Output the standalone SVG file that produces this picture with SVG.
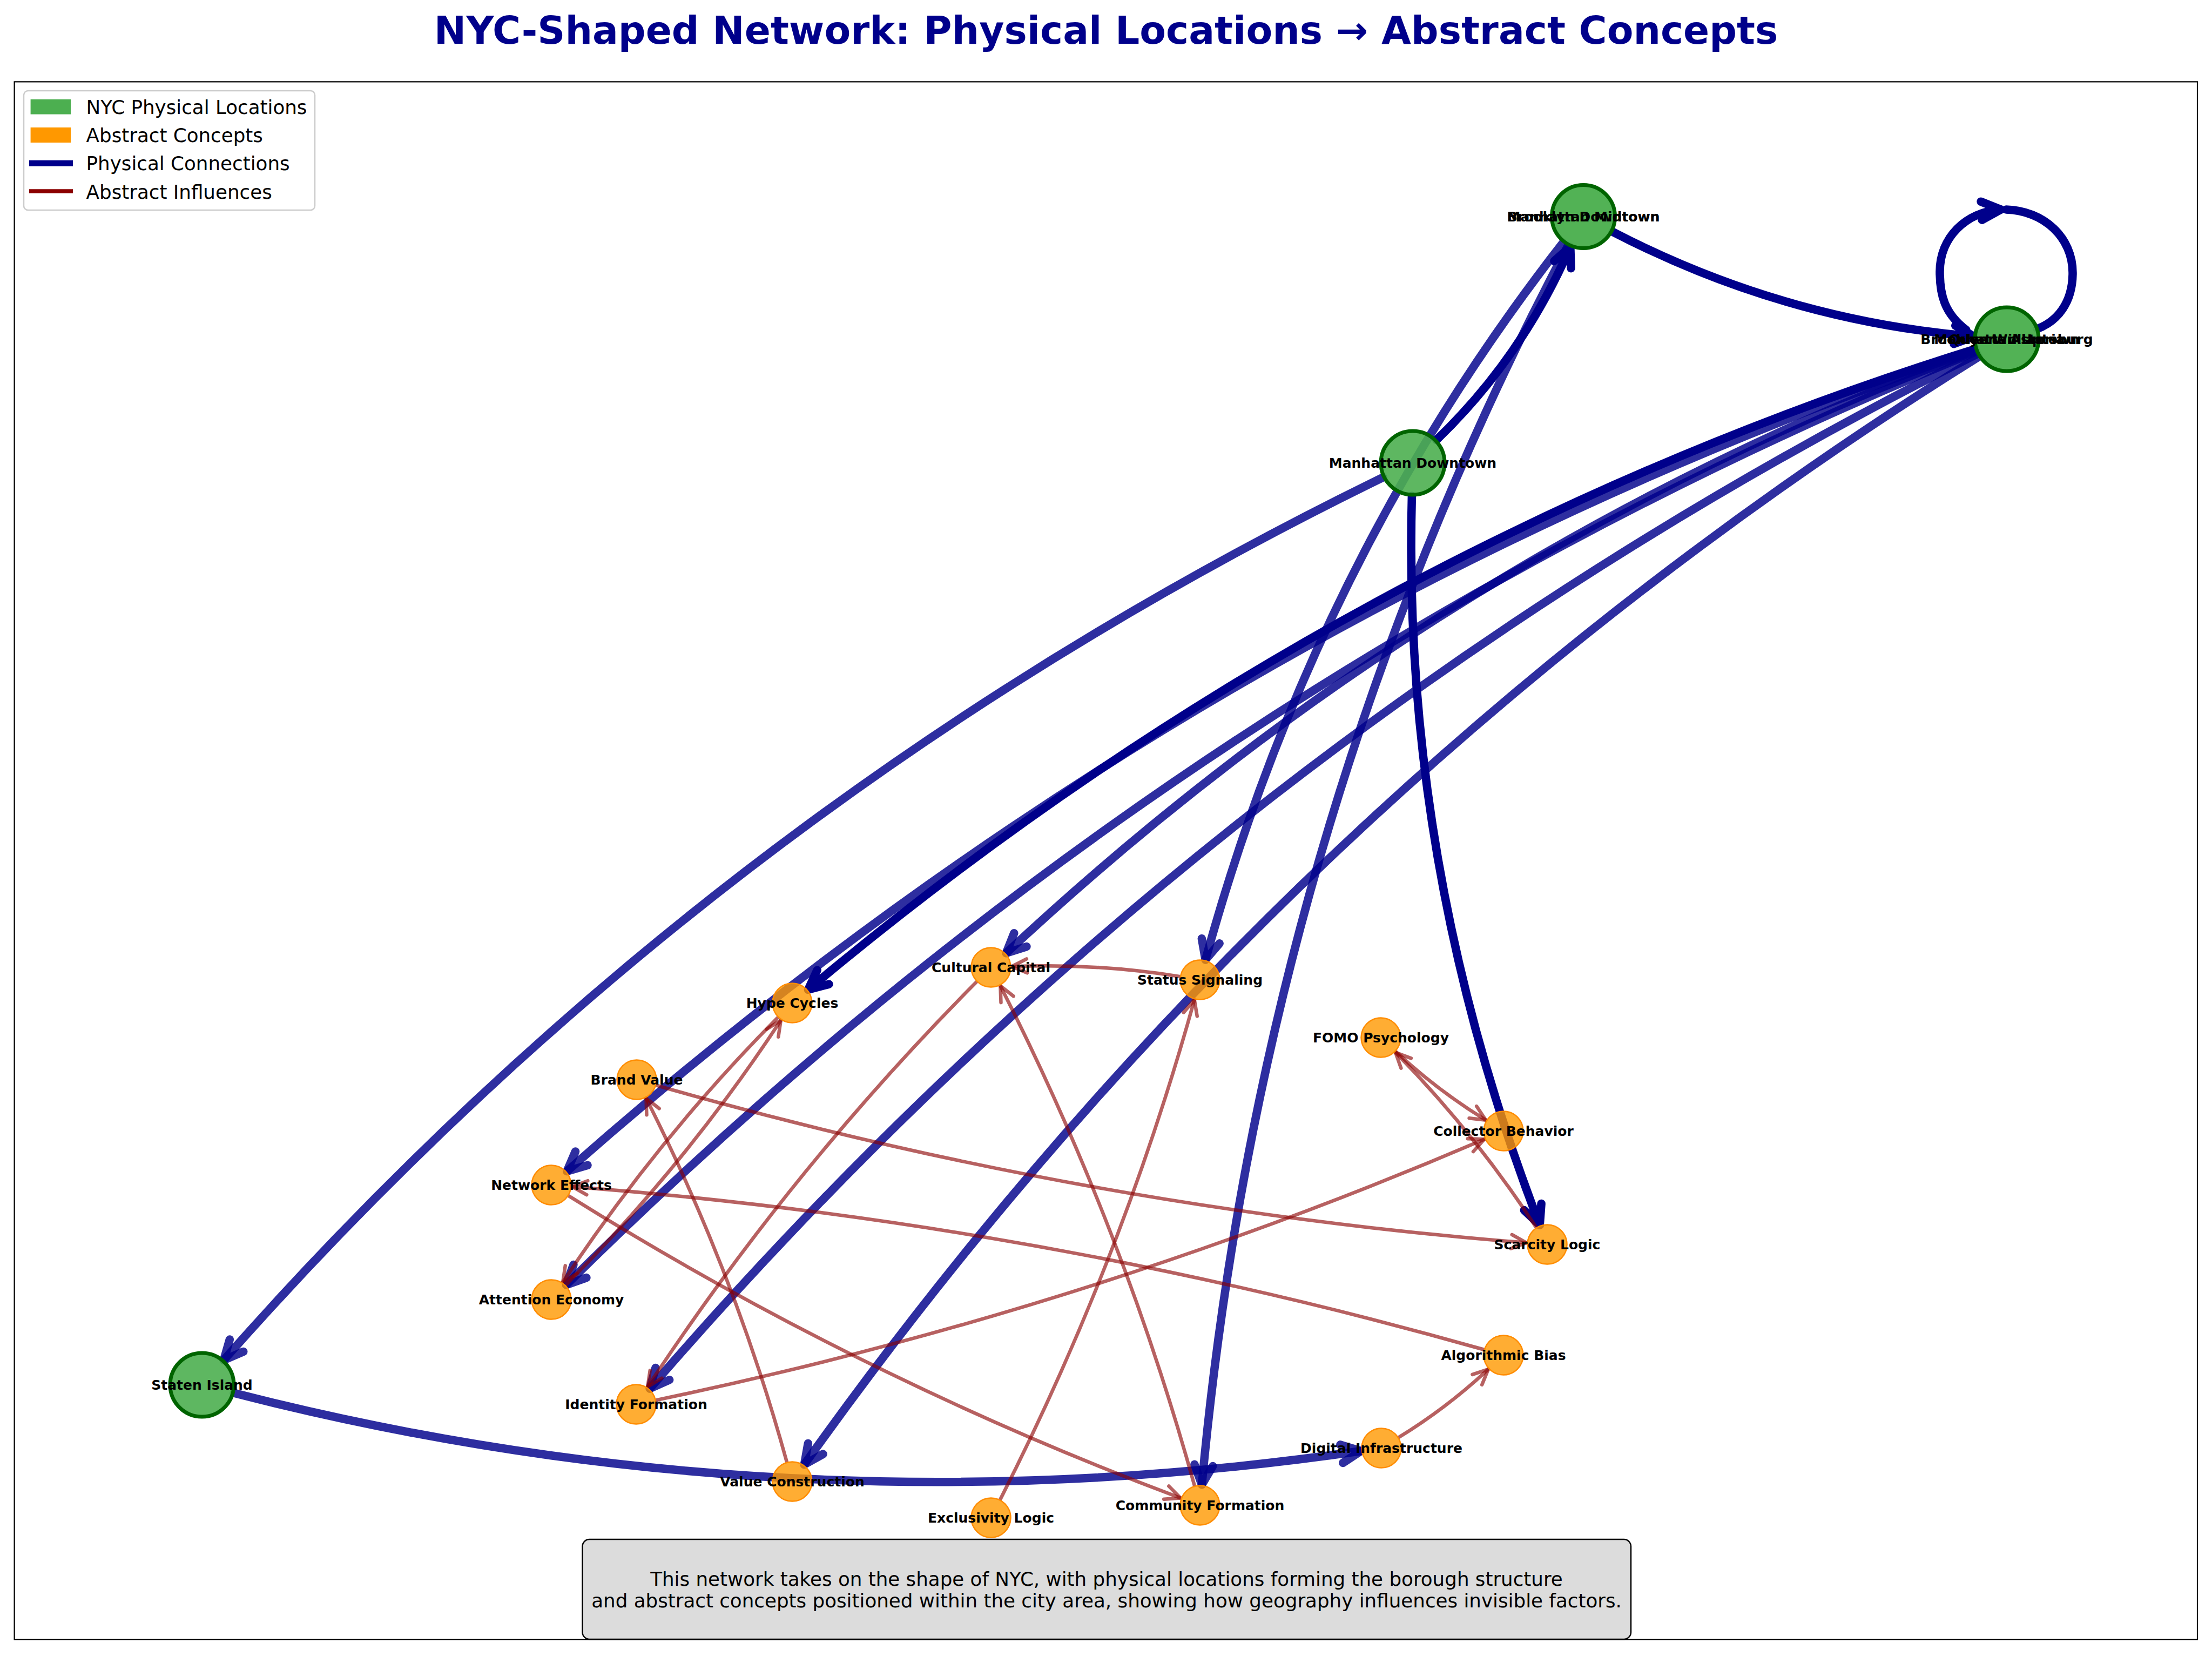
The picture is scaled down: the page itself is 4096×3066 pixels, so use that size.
<svg xmlns="http://www.w3.org/2000/svg" width="4096" height="3066" viewBox="0 0 4096 3066">
<defs>
<style>
.lbl{font-family:"DejaVu Sans","Liberation Sans",sans-serif;font-weight:bold;font-size:25px;text-anchor:middle;fill:#000}
.lg{font-family:"DejaVu Sans","Liberation Sans",sans-serif;font-size:35.7px;fill:#000}
.pe{fill:none;stroke:#00008B;stroke-width:15.5;stroke-opacity:.82;stroke-linecap:round;marker-end:url(#ab)}
.pd{stroke-opacity:1;marker-end:url(#abd)}
.ae{fill:none;stroke:#8B0000;stroke-width:6.5;stroke-opacity:.62;stroke-linecap:round;marker-end:url(#ar)}
.pn{fill:#4CAF50;fill-opacity:.9;stroke:#006400;stroke-width:7}
.pns{fill-opacity:.97}
.cn{fill:#FF9800;fill-opacity:.8;stroke:#FF8C00;stroke-width:2.5}
</style>
<marker id="ab" markerUnits="userSpaceOnUse" orient="auto" overflow="visible" markerWidth="1" markerHeight="1">
<path d="M-36,-17 L0,0 L-36,17" fill="none" stroke="#00008B" stroke-opacity=".82" stroke-width="15.5" stroke-linecap="round" stroke-linejoin="round"/>
</marker>
<marker id="abd" markerUnits="userSpaceOnUse" orient="auto" overflow="visible" markerWidth="1" markerHeight="1">
<path d="M-36,-17 L0,0 L-36,17" fill="none" stroke="#00008B" stroke-width="15.5" stroke-linecap="round" stroke-linejoin="round"/>
</marker>
<marker id="ar" markerUnits="userSpaceOnUse" orient="auto" overflow="visible" markerWidth="1" markerHeight="1">
<path d="M-28,-13 L0,0 L-28,13" fill="none" stroke="#8B0000" stroke-opacity=".62" stroke-width="6.5" stroke-linecap="round" stroke-linejoin="round"/>
</marker>
</defs>
<rect x="0" y="0" width="4096" height="3066" fill="#fff"/>
<text x="2048" y="81" text-anchor="middle" font-family="DejaVu Sans, Liberation Sans, sans-serif" font-weight="bold" font-size="71" fill="#00008B">NYC-Shaped Network: Physical Locations → Abstract Concepts</text>
<rect x="26.6" y="151.4" width="4042.4" height="2884" fill="none" stroke="#000" stroke-width="2.2"/>

<g id="connectors">
<g id="physical-connections">
<path class="pe pd" d="M2986.1,429.1 Q3301.3,592.9 3655.2,622.9"/>
<path class="pe pd" d="M2659.9,814.7 Q2819.6,660.6 2907.8,457"/>
<path class="pe" d="M2903.5,454.9 Q2338.4,1523 2225.5,2748.7"/>
<path class="pe" d="M2894.5,449.1 Q2435.7,1036.5 2232.2,1776.9"/>
<path class="pe pd" d="M2614.4,918 Q2595.8,1605.4 2851.2,2268.1"/>
<path class="pe" d="M2561.2,883.7 Q1324.3,1486.3 414.3,2518.2"/>
<path class="pe" d="M433.1,2579.1 Q1454.3,2840.9 2519.9,2686.5"/>
<path class="pe pd" d="M3657.8,646.2 Q2468.6,1017.6 1496.5,1832.3"/>
<path class="pe" d="M3658.3,647.7 Q2211.9,1141.5 1049.8,2168.5"/>
<path class="pe" d="M3659.5,651 Q2190.7,1247.5 1048.4,2378.9"/>
<path class="pe" d="M3661.4,655.3 Q2249.8,1360.2 1203.2,2570.9"/>
<path class="pe" d="M3658.8,649.3 Q2659.2,1021.4 1863.1,1764.7"/>
<path class="pe" d="M3664.2,660.3 Q2380,1460.6 1489.3,2711.6"/>
<path class="pe pd" d="M3641,611 C3600,580 3592,545 3592,503 C3592,440 3640,392 3705,388"/>
<path fill="none" stroke="#00008B" stroke-width="15.5" stroke-linecap="round" d="M3715,388 C3785,390 3838,440 3838,505 C3838,560 3810,595 3772,609"/>
</g>
<g id="abstract-influences">
<path class="ae" d="M2184,1807.9 Q2029.7,1783.2 1873.5,1789.5"/>
<path class="ae" d="M1807.9,1818.3 Q1466,2162.6 1199.2,2567.8"/>
<path class="ae" d="M1439.9,1884.3 Q1216.6,2109.2 1042.2,2373.9"/>
<path class="ae" d="M1048.1,2378.7 Q1271.5,2153.8 1445.8,1889.2"/>
<path class="ae" d="M1216,2009.6 Q2006.8,2235.8 2826.6,2301"/>
<path class="ae" d="M1456.7,2705.9 Q1360.2,2356.6 1196.4,2033.3"/>
<path class="ae" d="M2747,2498.5 Q1918.3,2263.4 1059.4,2197"/>
<path class="ae" d="M1053.7,2214.4 Q1591.9,2550.6 2186,2773.5"/>
<path class="ae" d="M1215.7,2592.1 Q2006.3,2427.3 2748.6,2109.2"/>
<path class="ae" d="M2585.1,1947.3 Q2661.9,2018.9 2751.2,2073.8"/>
<path class="ae" d="M2844,2271.7 Q2730.2,2097.1 2584,1948.5"/>
<path class="ae" d="M1852.4,2775.7 Q2078.3,2331.4 2211.7,1851.1"/>
<path class="ae" d="M2211.7,2749.9 Q2078.3,2269.7 1852.4,1825.3"/>
<path class="ae" d="M2590.8,2660.8 Q2679.6,2606.3 2755.8,2535.2"/>
</g>
</g>

<g id="node-manhattan-midtown"><circle class="pn pns" cx="2932" cy="401" r="58.5"/></g>
<g id="node-brooklyn-williamsburg"><circle class="pn pns" cx="3716" cy="628" r="59"/></g>
<g id="node-manhattan-downtown"><circle class="pn" cx="2616" cy="857" r="59"/></g>
<g id="node-staten-island"><circle class="pn" cx="374" cy="2564" r="59"/></g>
<g id="node-cultural-capital"><circle class="cn" cx="1835" cy="1791" r="36.5"/></g>
<g id="node-status-signaling"><circle class="cn" cx="2222" cy="1814" r="36.5"/></g>
<g id="node-hype-cycles"><circle class="cn" cx="1467" cy="1857" r="36.5"/></g>
<g id="node-fomo-psychology"><circle class="cn" cx="2557" cy="1921" r="36.5"/></g>
<g id="node-brand-value"><circle class="cn" cx="1179" cy="1999" r="36.5"/></g>
<g id="node-collector-behavior"><circle class="cn" cx="2784" cy="2094" r="36.5"/></g>
<g id="node-network-effects"><circle class="cn" cx="1021" cy="2194" r="36.5"/></g>
<g id="node-scarcity-logic"><circle class="cn" cx="2865" cy="2304" r="36.5"/></g>
<g id="node-attention-economy"><circle class="cn" cx="1021" cy="2406" r="36.5"/></g>
<g id="node-algorithmic-bias"><circle class="cn" cx="2784" cy="2509" r="36.5"/></g>
<g id="node-identity-formation"><circle class="cn" cx="1178" cy="2600" r="36.5"/></g>
<g id="node-digital-infrastructure"><circle class="cn" cx="2558" cy="2681" r="36.5"/></g>
<g id="node-value-construction"><circle class="cn" cx="1467" cy="2743" r="36.5"/></g>
<g id="node-community-formation"><circle class="cn" cx="2222" cy="2787" r="36.5"/></g>
<g id="node-exclusivity-logic"><circle class="cn" cx="1835" cy="2810" r="36.5"/></g>

<g id="labels">
<text class="lbl" x="2932" y="409.5">Brooklyn Downtown</text>
<text class="lbl" x="2932" y="409.5">Manhattan Midtown</text>
<text class="lbl" x="3716" y="636.5">Brooklyn Williamsburg</text>
<text class="lbl" x="3716" y="636.5">Manhattan Uptown</text>
<text class="lbl" x="3716" y="636.5">Queens Astoria</text>
<text class="lbl" x="2616" y="865.5">Manhattan Downtown</text>
<text class="lbl" x="374" y="2572.5">Staten Island</text>
<text class="lbl" x="1835" y="1799.5">Cultural Capital</text>
<text class="lbl" x="2222" y="1822.5">Status Signaling</text>
<text class="lbl" x="1467" y="1865.5">Hype Cycles</text>
<text class="lbl" x="2557" y="1929.5">FOMO Psychology</text>
<text class="lbl" x="1179" y="2007.5">Brand Value</text>
<text class="lbl" x="2784" y="2102.5">Collector Behavior</text>
<text class="lbl" x="1021" y="2202.5">Network Effects</text>
<text class="lbl" x="2865" y="2312.5">Scarcity Logic</text>
<text class="lbl" x="1021" y="2414.5">Attention Economy</text>
<text class="lbl" x="2784" y="2517.5">Algorithmic Bias</text>
<text class="lbl" x="1178" y="2608.5">Identity Formation</text>
<text class="lbl" x="2558" y="2689.5">Digital Infrastructure</text>
<text class="lbl" x="1467" y="2751.5">Value Construction</text>
<text class="lbl" x="2222" y="2795.5">Community Formation</text>
<text class="lbl" x="1835" y="2818.5">Exclusivity Logic</text>
</g>

<g id="legend">
<rect x="44" y="168" width="539" height="221" rx="8" fill="#fff" fill-opacity=".85" stroke="#cccccc" stroke-width="2.5"/>
<rect x="56.6" y="184" width="74.4" height="27.6" fill="#4CAF50"/>
<text class="lg" x="159.6" y="210.8">NYC Physical Locations</text>
<rect x="56.6" y="236" width="74.4" height="28" fill="#FF9800"/>
<text class="lg" x="159.6" y="263">Abstract Concepts</text>
<line x1="54" y1="302.3" x2="135" y2="302.3" stroke="#00008B" stroke-width="11"/>
<text class="lg" x="159.6" y="314.6">Physical Connections</text>
<line x1="54" y1="354.1" x2="135" y2="354.1" stroke="#8B0000" stroke-width="7.5"/>
<text class="lg" x="159.6" y="367.5">Abstract Influences</text>
</g>

<g id="caption">
<rect x="1078.5" y="2850" width="1941.5" height="185" rx="13" fill="#DCDCDC" stroke="#000" stroke-width="2.5"/>
<text class="lg" x="2049" y="2936" text-anchor="middle">This network takes on the shape of NYC, with physical locations forming the borough structure</text>
<text class="lg" x="2049" y="2976" text-anchor="middle">and abstract concepts positioned within the city area, showing how geography influences invisible factors.</text>
</g>
</svg>
